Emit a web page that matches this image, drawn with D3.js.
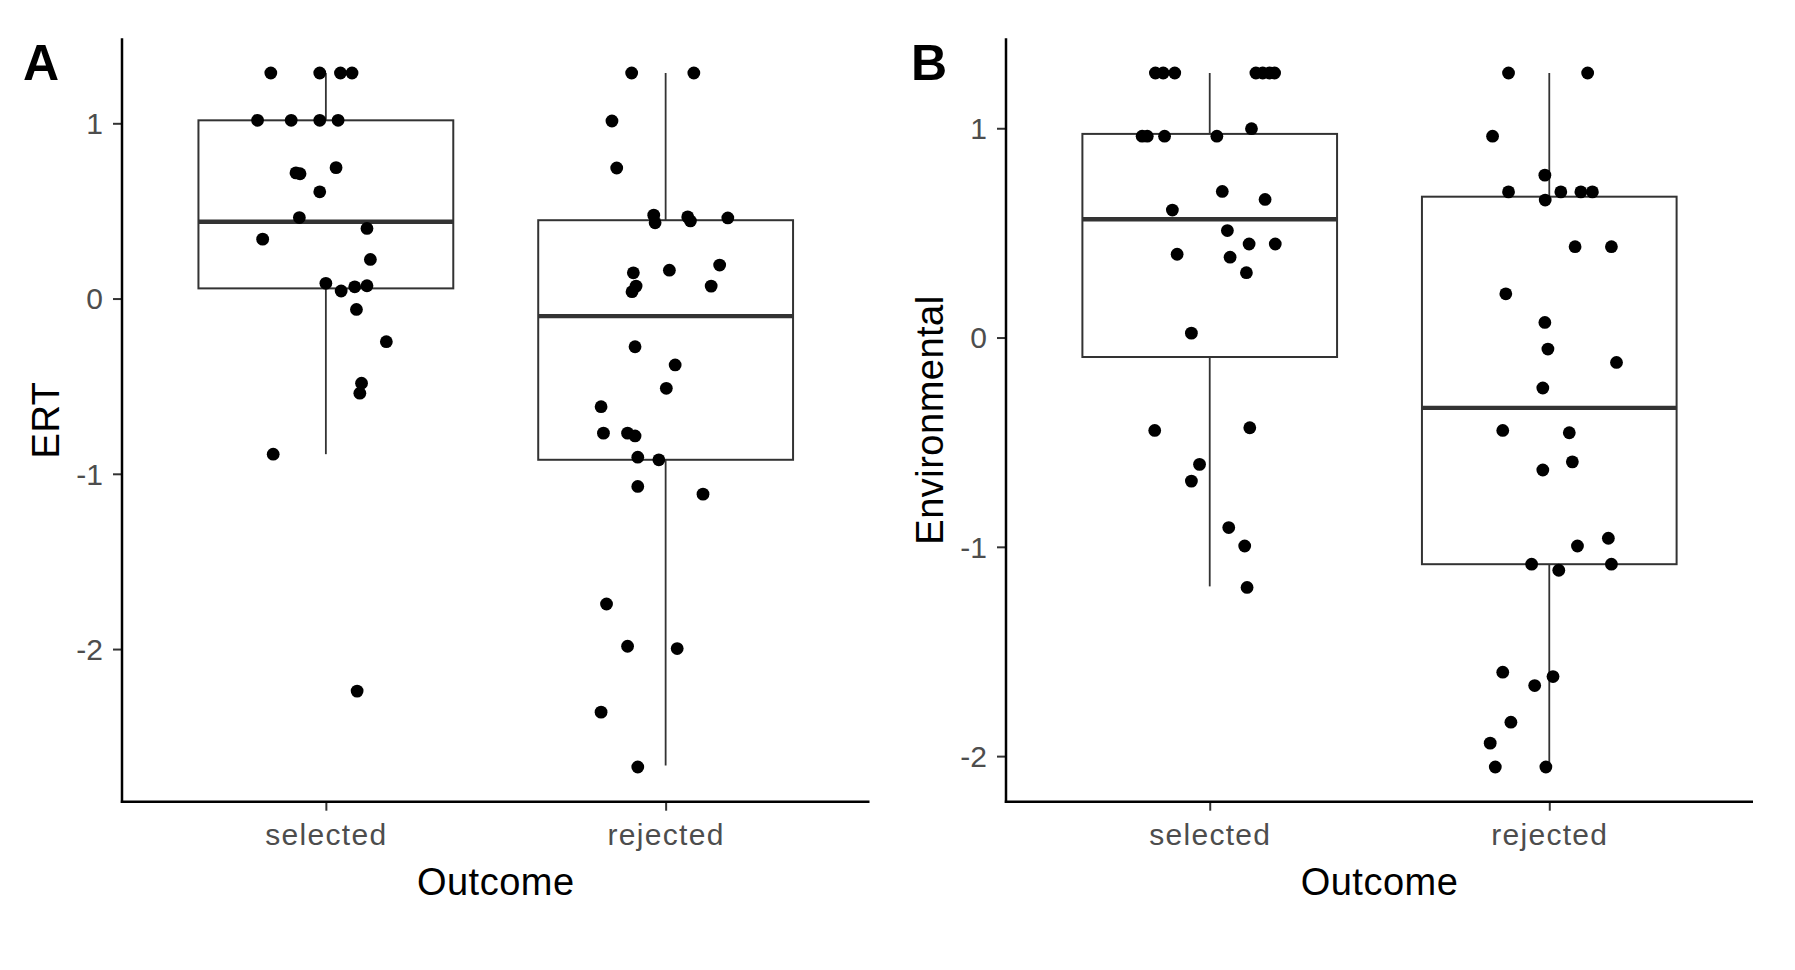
<!DOCTYPE html>
<html>
<head>
<meta charset="utf-8">
<script src="https://cdn.jsdelivr.net/npm/d3@7/dist/d3.min.js"></script>
<style>
  html, body { margin: 0; padding: 0; background: #ffffff; }
  svg { display: block; }
</style>
</head>
<body>
<svg id="chart" width="1795" height="970"></svg>
<script>
// ---------------- data ----------------
const categories = ["selected", "rejected"];
const yTicks = [-2, -1, 0, 1];
const yTickLabels = ["-2", "-1", "0", "1"];
const panelLabels = ["A", "B"];
const yTitles = ["ERT", "Environmental"];
const xTitle = "Outcome";

// Panel A (ERT)
const ertSelectedValues = [1.287, 1.287, 1.287, 1.287, 1.017, 1.017, 1.017, 1.017, 0.717, 0.712, 0.747, 0.609, 0.462, 0.400, 0.339, 0.223, 0.087, 0.043, 0.067, 0.073, -0.062, -0.246, -0.483, -0.540, -0.888, -2.240];
const ertSelectedJitter = [-0.162, -0.018, 0.043, 0.077, -0.201, -0.102, -0.018, 0.036, -0.088, -0.076, 0.030, -0.018, -0.078, 0.121, -0.186, 0.131, 0.000, 0.045, 0.085, 0.121, 0.090, 0.178, 0.105, 0.100, -0.155, 0.092];
const ertRejectedValues = [1.287, 1.287, 1.013, 0.745, 0.476, 0.432, 0.466, 0.443, 0.460, 0.147, 0.162, 0.191, 0.071, 0.039, 0.071, -0.275, -0.379, -0.512, -0.617, -0.768, -0.768, -0.784, -0.905, -0.920, -1.072, -1.116, -1.743, -1.984, -1.997, -2.360, -2.673];
const ertRejectedJitter = [-0.100, 0.083, -0.158, -0.144, -0.035, -0.031, 0.065, 0.073, 0.183, -0.095, 0.011, 0.159, -0.087, -0.099, 0.134, -0.090, 0.028, 0.002, -0.190, -0.183, -0.112, -0.090, -0.082, -0.020, -0.082, 0.110, -0.174, -0.112, 0.034, -0.190, -0.082];
// box stats: [lower whisker, Q1, median, Q3, upper whisker]
const ertSelectedBox = [-0.888, 0.058, 0.438, 1.017, 1.287];
const ertRejectedBox = [-2.664, -0.920, -0.100, 0.447, 1.287];

// Panel B (Environmental)
const envSelectedValues = [1.264, 1.264, 1.264, 1.264, 1.264, 1.264, 1.264, 0.962, 0.962, 0.962, 0.962, 0.998, 0.698, 0.660, 0.609, 0.511, 0.447, 0.447, 0.398, 0.384, 0.310, 0.021, -0.444, -0.431, -0.606, -0.686, -0.908, -0.996, -1.194];
const envSelectedJitter = [-0.160, -0.137, -0.103, 0.136, 0.156, 0.176, 0.191, -0.199, -0.184, -0.133, 0.021, 0.123, 0.037, 0.163, -0.110, 0.052, 0.116, 0.193, -0.096, 0.060, 0.108, -0.054, -0.162, 0.118, -0.030, -0.054, 0.056, 0.103, 0.110];
const envRejectedValues = [1.264, 1.264, 0.962, 0.776, 0.696, 0.696, 0.696, 0.696, 0.657, 0.434, 0.434, 0.209, 0.072, -0.055, -0.119, -0.241, -0.444, -0.455, -0.594, -0.633, -0.959, -0.996, -1.083, -1.112, -1.083, -1.599, -1.620, -1.663, -1.838, -1.938, -2.052, -2.052];
const envRejectedJitter = [-0.120, 0.113, -0.167, -0.013, -0.120, 0.034, 0.093, 0.127, -0.012, 0.076, 0.183, -0.128, -0.013, -0.004, 0.198, -0.019, -0.137, 0.059, 0.068, -0.019, 0.174, 0.083, -0.052, 0.028, 0.183, -0.137, 0.011, -0.043, -0.113, -0.174, -0.159, -0.010];
const envSelectedBox = [-1.189, -0.093, 0.565, 0.973, 1.264];
const envRejectedBox = [-2.052, -1.083, -0.336, 0.673, 1.264];

// ---------------- drawing ----------------
const svg = d3.select("#chart");
const FONT = "'Liberation Sans', Arial, sans-serif";

const panels = [
  {
    label: panelLabels[0], yTitle: yTitles[0], left: 122, right: 869.5, labelX: 23,
    groups: [
      { values: ertSelectedValues, jitter: ertSelectedJitter, box: ertSelectedBox },
      { values: ertRejectedValues, jitter: ertRejectedJitter, box: ertRejectedBox }
    ]
  },
  {
    label: panelLabels[1], yTitle: yTitles[1], left: 1006, right: 1753, labelX: 911,
    groups: [
      { values: envSelectedValues, jitter: envSelectedJitter, box: envSelectedBox },
      { values: envRejectedValues, jitter: envRejectedJitter, box: envRejectedBox }
    ]
  }
];

const plotTop = 38.3, plotBottom = 801.7;

panels.forEach(p => {
  const g = svg.append("g");
  const allVals = p.groups.flatMap(d => d.values);
  const mn = d3.min(allVals), mx = d3.max(allVals);
  const ex = (mx - mn) * 0.05;
  const y = d3.scaleLinear().domain([mn - ex, mx + ex]).range([plotBottom, plotTop]);
  const x = d3.scaleLinear().domain([0.4, categories.length + 0.6]).range([p.left, p.right]);
  const boxHalf = 0.375;

  // boxes
  p.groups.forEach((grp, i) => {
    const c = i + 1;
    const [lo, q1, med, q3, hi] = grp.box;
    g.append("line").attr("x1", x(c)).attr("x2", x(c)).attr("y1", y(q3)).attr("y2", y(hi))
      .attr("stroke", "#333333").attr("stroke-width", 1.8);
    g.append("line").attr("x1", x(c)).attr("x2", x(c)).attr("y1", y(q1)).attr("y2", y(lo))
      .attr("stroke", "#333333").attr("stroke-width", 1.8);
    g.append("rect")
      .attr("x", x(c - boxHalf)).attr("y", y(q3))
      .attr("width", x(c + boxHalf) - x(c - boxHalf)).attr("height", y(q1) - y(q3))
      .attr("fill", "#ffffff").attr("stroke", "#333333").attr("stroke-width", 2);
    g.append("line").attr("x1", x(c - boxHalf)).attr("x2", x(c + boxHalf))
      .attr("y1", y(med)).attr("y2", y(med))
      .attr("stroke", "#333333").attr("stroke-width", 4.4);
  });

  // points
  p.groups.forEach((grp, i) => {
    const c = i + 1;
    g.selectAll(null).data(grp.values.map((v, k) => ({ v, j: grp.jitter[k] })))
      .enter().append("circle")
      .attr("cx", d => x(c + d.j)).attr("cy", d => y(d.v))
      .attr("r", 6.4).attr("fill", "#000000");
  });

  // y axis
  const yAxis = d3.axisLeft(y).tickValues(yTicks).tickSize(9).tickPadding(10)
    .tickFormat(d => yTickLabels[yTicks.indexOf(d)]);
  const ya = g.append("g").attr("transform", `translate(${p.left},0)`).call(yAxis);
  ya.select(".domain").remove();
  ya.selectAll(".tick line").attr("stroke", "#333333").attr("stroke-width", 2);
  ya.selectAll(".tick text").attr("fill", "#4d4d4d").style("font-family", FONT)
    .style("font-size", "30px").attr("dy", "0.34em");
  g.append("line").attr("x1", p.left).attr("x2", p.left).attr("y1", plotTop).attr("y2", plotBottom + 1.2)
    .attr("stroke", "#000000").attr("stroke-width", 2.5);

  // x axis
  const xAxis = d3.axisBottom(x).tickValues(categories.map((d, i) => i + 1)).tickSize(9).tickPadding(13)
    .tickFormat((d) => categories[d - 1]);
  const xa = g.append("g").attr("transform", `translate(0,${plotBottom})`).call(xAxis);
  xa.select(".domain").remove();
  xa.selectAll(".tick line").attr("stroke", "#333333").attr("stroke-width", 2);
  xa.selectAll(".tick text").attr("fill", "#4d4d4d").style("font-family", FONT)
    .style("font-size", "30px").style("letter-spacing", "1.3px");
  g.append("line").attr("x1", p.left - 1.2).attr("x2", p.right).attr("y1", plotBottom).attr("y2", plotBottom)
    .attr("stroke", "#000000").attr("stroke-width", 2.5);

  // titles
  g.append("text").attr("x", (p.left + p.right) / 2).attr("y", 895)
    .attr("text-anchor", "middle").attr("fill", "#000000")
    .style("font-family", FONT).style("font-size", "38px").style("letter-spacing", "0.5px")
    .text(xTitle);
  g.append("text")
    .attr("transform", `translate(${p.left - 63},${(plotTop + plotBottom) / 2}) rotate(-90)`)
    .attr("text-anchor", "middle").attr("fill", "#000000")
    .style("font-family", FONT).style("font-size", "38px").style("letter-spacing", "0.5px")
    .text(p.yTitle);

  // panel label
  g.append("text").attr("x", p.labelX).attr("y", 79.5)
    .attr("fill", "#000000").style("font-family", FONT).style("font-weight", "bold")
    .style("font-size", "50px").text(p.label);
});
</script>
</body>
</html>
